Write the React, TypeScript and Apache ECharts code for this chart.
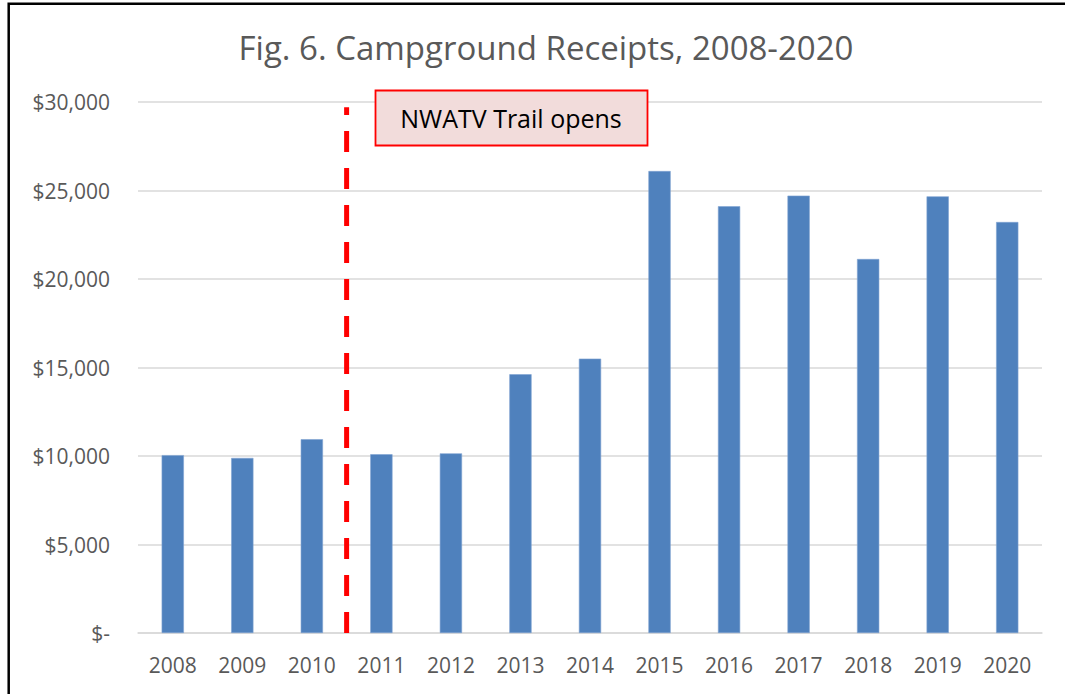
import React, { useEffect, useRef } from "react";
import * as echarts from "echarts";

const years = ["2008", "2009", "2010", "2011", "2012", "2013", "2014", "2015", "2016", "2017", "2018", "2019", "2020"];
const receipts = [10050, 9890, 10950, 10100, 10150, 14620, 15500, 26100, 24110, 24710, 21130, 24670, 23220];
const yMin = 0;
const yMax = 30000;
const yStep = 5000;
// Trail opening marker sits on the boundary after the 3rd category (between 2010 and 2011)
const trailOpenBoundary = [3, 3];
const trailLineValues = [0, 29700];
const titleText = "Fig. 6. Campground Receipts, 2008-2020";
const noteText = "NWATV Trail opens";

const FONT = "'Open Sans', 'Noto Sans', sans-serif";

export default function App() {
  const ref = useRef<HTMLDivElement>(null);
  useEffect(() => {
    if (!ref.current) return;
    const chart = echarts.init(ref.current, undefined, { renderer: "svg" });
    const fmt = (v: number) => (v === 0 ? "$-" : "$" + v.toLocaleString("en-US"));
    chart.setOption({
      animation: false,
      backgroundColor: "#ffffff",
      title: {
        text: titleText,
        left: 541,
        top: 26,
        textAlign: "center",
        textStyle: { fontFamily: FONT, fontSize: 33, fontWeight: "normal", color: "#595959" },
      },
      grid: { left: 138, right: 23, top: 102, bottom: 61, containLabel: false },
      xAxis: [
        {
          type: "category",
          data: years,
          axisLine: { show: true, lineStyle: { color: "#D9D9D9", width: 1.5 } },
          axisTick: { show: false },
          axisLabel: { fontFamily: FONT, fontSize: 21, color: "#595959", margin: 21 },
        },
        {
          type: "value",
          min: 0,
          max: years.length,
          show: false,
        },
      ],
      yAxis: {
        type: "value",
        min: yMin,
        max: yMax,
        interval: yStep,
        axisLine: { show: false },
        axisTick: { show: false },
        splitLine: { lineStyle: { color: "#D9D9D9", width: 1.5 } },
        axisLabel: { fontFamily: FONT, fontSize: 21, color: "#595959", margin: 28, formatter: fmt },
      },
      series: [
        {
          type: "bar",
          data: receipts,
          barWidth: "32%",
          itemStyle: { color: "#4F81BD", borderColor: "#7FA3D1", borderWidth: 0.6 },
        },
        {
          type: "line",
          xAxisIndex: 1,
          data: trailLineValues.map((v, i) => [trailOpenBoundary[i], v]),
          symbol: "none",
          lineStyle: { color: "#FF0000", width: 5, type: [21, 16] },
          z: 5,
        },
      ],
      graphic: [
        {
          type: "rect",
          shape: { x: 8.7, y: 3.8, width: 1200, height: 900 },
          style: { fill: "none", stroke: "#000000", lineWidth: 2.5 },
          silent: true,
        },
        {
          type: "rect",
          shape: { x: 375.5, y: 90.5, width: 272, height: 55 },
          style: { fill: "#F2DCDB", stroke: "#FF0000", lineWidth: 1.8 },
          z: 10,
        },
        {
          type: "text",
          x: 511,
          y: 118,
          style: {
            text: noteText,
            fontFamily: FONT,
            fontSize: 25,
            fill: "#000000",
            textAlign: "center",
            textVerticalAlign: "middle",
          },
          z: 11,
        },
      ],
    });
    return () => chart.dispose();
  }, []);
  return <div ref={ref} style={{ position: "absolute", left: 0, top: 0, width: 1065, height: 694 }} />;
}
